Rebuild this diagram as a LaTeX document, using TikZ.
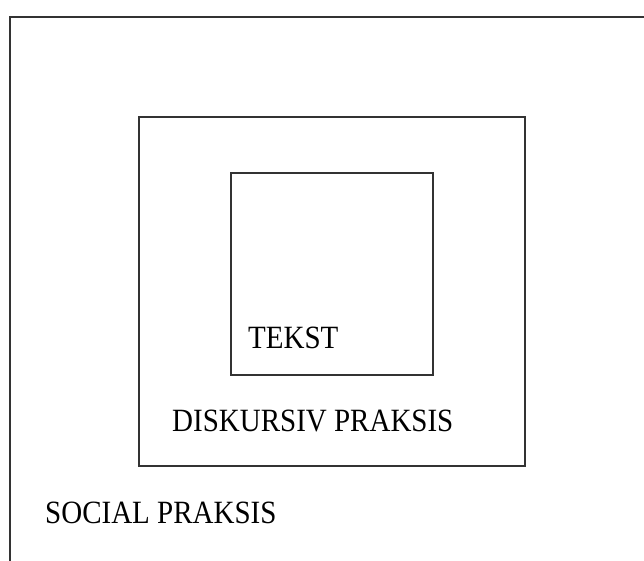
\documentclass[tikz,border=0pt]{standalone}
\usepackage{fontspec}
\setmainfont{Liberation Serif}
\usetikzlibrary{shadows}
\tikzset{
  ramme/.style={draw=black!80, line width=1.6pt, fill=white, inner sep=0pt,
    drop shadow={shadow xshift=1.2pt, shadow yshift=-1.2pt, opacity=.35}},
  etiket/.style={anchor=base west, inner sep=0pt, text=black,
    font=\fontsize{29}{29}\selectfont, yscale=1.12, transform shape}
}
\begin{document}
\begin{tikzpicture}[x=1pt, y=-1pt]
  \clip (0,0) rectangle (644,561);
  \fill[white] (0,0) rectangle (644,561);
  % social praksis, runs past the right and bottom edges
  \node [ramme, minimum width=660pt, minimum height=580pt, anchor=north west] (social) at (9,16) {};
  \node [ramme, minimum width=386pt, minimum height=349pt, anchor=north west] (diskursiv) at (138,116) {};
  \node [ramme, minimum width=202pt, minimum height=202pt, anchor=north west] (tekst) at (230,172) {};
  \node [etiket] (tekstlabel) at (248,348) {TEKST};
  \node [etiket] (diskursivlabel) at (172,431) {DISKURSIV PRAKSIS};
  \node [etiket] (sociallabel) at (45,523) {SOCIAL PRAKSIS};
\end{tikzpicture}
\end{document}
